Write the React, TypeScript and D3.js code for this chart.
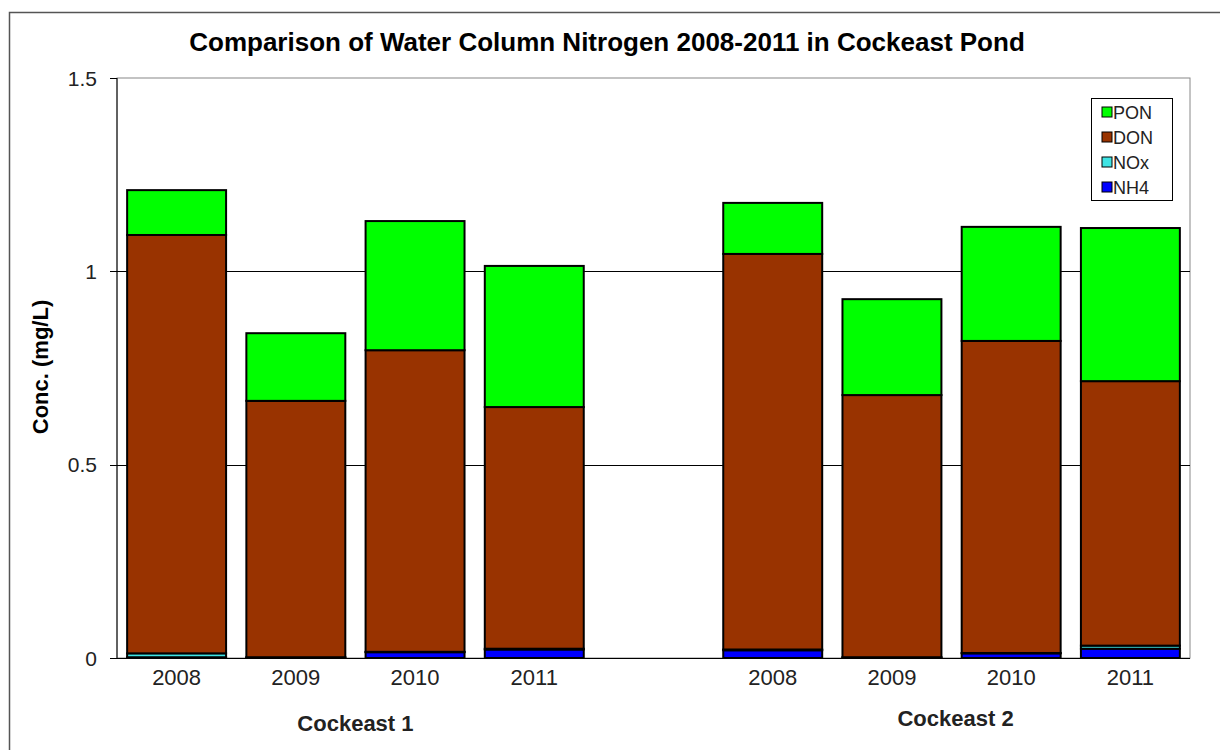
import React from "react";
import * as d3 from "d3";

// bar slots, with an empty slot between the two ponds
const slots = ["C1-2008", "C1-2009", "C1-2010", "C1-2011", "gap", "C2-2008", "C2-2009", "C2-2010", "C2-2011"];
const yearLabels = ["2008", "2009", "2010", "2011", "", "2008", "2009", "2010", "2011"];
const groupLabels = ["Cockeast 1", "Cockeast 2"];

// series values (mg/L), bottom to top
const nh4 = [0.002, 0.001, 0.015, 0.022, 0, 0.02, 0.001, 0.012, 0.024];
const nox = [0.01, 0.001, 0.001, 0.002, 0, 0.002, 0.001, 0.001, 0.008];
const don = [1.082, 0.663, 0.78, 0.625, 0, 1.023, 0.678, 0.807, 0.684];
const pon = [0.116, 0.175, 0.334, 0.365, 0, 0.132, 0.248, 0.295, 0.396];

const seriesKeys = ["NH4", "NOx", "DON", "PON"];
const seriesColors: Record<string, string> = {
  NH4: "#0000ff",
  NOx: "#3fe4e4",
  DON: "#993300",
  PON: "#00ff00",
};
const yTicks = [0, 0.5, 1, 1.5];

const W = 1220;
const H = 750;
const margin = { top: 78, right: 30, bottom: 92, left: 117 };

export default function App() {
  const innerW = W - margin.left - margin.right;
  const innerH = H - margin.top - margin.bottom;

  const rows = slots.map((s, i) => ({
    slot: s,
    NH4: nh4[i],
    NOx: nox[i],
    DON: don[i],
    PON: pon[i],
  }));
  const stacked = d3.stack<any>().keys(seriesKeys)(rows);

  const x = d3.scaleBand().domain(slots).range([0, innerW]).paddingInner(0.17).paddingOuter(0.085);
  const y = d3.scaleLinear().domain([0, 1.5]).range([innerH, 0]);

  const font = "Arial, 'Liberation Sans', sans-serif";
  const legendItems = [...seriesKeys].reverse();

  const groupCenter = (from: number, to: number) =>
    (x(slots[from])! + x(slots[to])! + x.bandwidth()) / 2;

  return (
    <svg width={W} height={H} style={{ position: "absolute", left: 0, top: 0 }} fontFamily={font}>
      <rect x={0} y={0} width={W} height={H} fill="#fff" />
      <rect x={9.5} y={12.5} width={W + 20} height={H + 20} fill="none" stroke="#555" strokeWidth={1.5} />
      <text x={607} y={51} textAnchor="middle" fontSize={26} fontWeight="bold" fill="#000">
        Comparison of Water Column Nitrogen 2008-2011 in Cockeast Pond
      </text>
      <g transform={`translate(${margin.left},${margin.top})`}>
        {/* plot area frame */}
        <rect x={0} y={0} width={innerW} height={innerH} fill="none" stroke="#888" strokeWidth={1} />
        {yTicks.map((t) => (
          <g key={t}>
            {t > 0 && t < 1.5 && (
              <line x1={0} x2={innerW} y1={Math.round(y(t)) + 0.5} y2={Math.round(y(t)) + 0.5} stroke="#000" strokeWidth={1} />
            )}
            <line x1={-7} x2={0} y1={Math.round(y(t)) + 0.5} y2={Math.round(y(t)) + 0.5} stroke="#000" strokeWidth={1} />
            <text x={-20} y={y(t) + 7.5} textAnchor="end" fontSize={21} fill="#222">
              {t}
            </text>
          </g>
        ))}
        {stacked.map((layer) => (
          <g key={layer.key} fill={seriesColors[layer.key]}>
            {layer.map((d, i) =>
              slots[i] === "gap" ? null : (
                <rect
                  key={slots[i]}
                  x={x(slots[i])}
                  y={y(d[1])}
                  width={x.bandwidth()}
                  height={Math.max(0, y(d[0]) - y(d[1]))}
                  stroke="#000"
                  strokeWidth={2}
                />
              )
            )}
          </g>
        ))}
        <line x1={0} x2={0} y1={0} y2={innerH} stroke="#000" strokeWidth={1} />
        <line x1={0} x2={innerW} y1={innerH + 0.5} y2={innerH + 0.5} stroke="#000" strokeWidth={1} />
        {slots.map((s, i) => (
          <text key={s} x={x(s)! + x.bandwidth() / 2} y={innerH + 27} textAnchor="middle" fontSize={22} fill="#222">
            {yearLabels[i]}
          </text>
        ))}
        <text x={groupCenter(0, 3)} y={innerH + 73} textAnchor="middle" fontSize={22} fontWeight="bold" fill="#222">
          {groupLabels[0]}
        </text>
        <text x={groupCenter(5, 8) + 4} y={innerH + 68} textAnchor="middle" fontSize={22} fontWeight="bold" fill="#222">
          {groupLabels[1]}
        </text>
      </g>
      <text
        transform={`translate(48,367) rotate(-90)`}
        textAnchor="middle"
        fontSize={22}
        fontWeight="bold"
        fill="#000"
      >
        Conc. (mg/L)
      </text>
      <g transform="translate(1091,98)">
        <rect x={0.5} y={0.5} width={81} height={102} fill="#fff" stroke="#000" strokeWidth={1} />
        {legendItems.map((k, i) => (
          <g key={k} transform={`translate(0,${14 + i * 25})`}>
            <rect x={11} y={-5} width={10} height={10} fill={seriesColors[k]} stroke="#000" strokeWidth={1} />
            <text x={22} y={6.5} fontSize={18} fill="#222">
              {k}
            </text>
          </g>
        ))}
      </g>
    </svg>
  );
}
